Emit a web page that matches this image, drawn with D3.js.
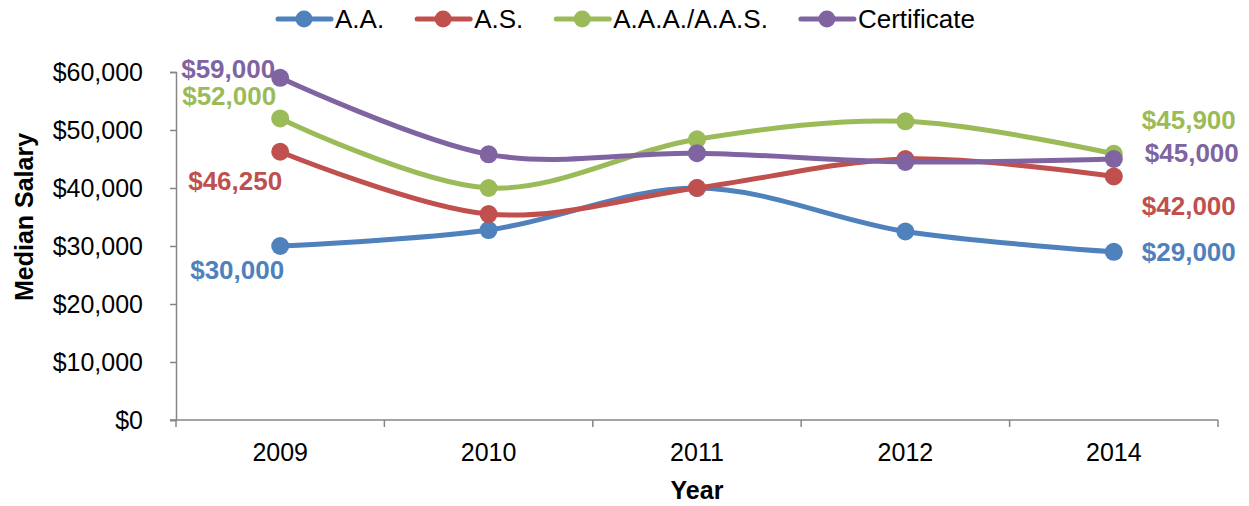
<!DOCTYPE html>
<html>
<head>
<meta charset="utf-8">
<script src="https://cdn.jsdelivr.net/npm/d3@7"></script>
<style>
  html, body { margin: 0; padding: 0; background: #fff; }
  svg { display: block; font-family: "Liberation Sans", Arial, sans-serif; }
</style>
</head>
<body>
<svg id="chart" width="1249" height="506"></svg>
<script>
// Median salary by credential type, per year
const years = ["2009", "2010", "2011", "2012", "2014"];
const seriesNames = ["A.A.", "A.S.", "A.A.A./A.A.S.", "Certificate"];
const aaValues   = [30000, 32750, 40000, 32500, 29000];
const asValues   = [46250, 35500, 40000, 45000, 42000];
const aaaValues  = [52000, 40000, 48400, 51500, 45900];
const certValues = [59000, 45800, 46000, 44500, 45000];
const yTickValues = [0, 10000, 20000, 30000, 40000, 50000, 60000];

const colors = ["#4F81BD", "#C0504D", "#9BBB59", "#8064A2"];
const seriesValues = [aaValues, asValues, aaaValues, certValues];

// Which points carry a value label, and where the label sits relative to its marker
const labelPlacement = [
  { s: 0, i: 0, dx: -43, dy: 24, anchor: "middle" },
  { s: 1, i: 0, dx: -45, dy: 29, anchor: "middle" },
  { s: 2, i: 0, dx: -4,  dy: -22, anchor: "end" },
  { s: 3, i: 0, dx: -5,  dy: -9, anchor: "end" },
  { s: 0, i: 4, dx: 28,  dy: 0, anchor: "start" },
  { s: 1, i: 4, dx: 28,  dy: 30, anchor: "start" },
  { s: 2, i: 4, dx: 28,  dy: -34, anchor: "start" },
  { s: 3, i: 4, dx: 31,  dy: -6, anchor: "start" }
];

const svg = d3.select("#chart");
const plotLeft = 176, plotRight = 1218, plotTop = 72, plotBottom = 420;
const axisColor = "#868686";

const x = d3.scaleBand().domain(years).range([plotLeft, plotRight]);
const y = d3.scaleLinear().domain([0, 60000]).range([plotBottom, plotTop]);
const cx = d => x(d) + x.bandwidth() / 2;

const money = d => "$" + d3.format(",")(d);

// Y axis
const yAxis = svg.append("g")
  .attr("transform", `translate(${plotLeft},0)`)
  .call(d3.axisLeft(y).tickValues(yTickValues).tickFormat(money).tickSize(6).tickPadding(27));
yAxis.select(".domain").attr("stroke", axisColor).attr("stroke-width", 1.5);
yAxis.selectAll(".tick line").attr("stroke", axisColor).attr("stroke-width", 1.5);
yAxis.selectAll(".tick text").attr("font-size", 25).attr("fill", "#000")
  .attr("font-family", "Liberation Sans, Arial, sans-serif");

// X axis with tick marks on category boundaries
const xAxis = svg.append("g")
  .attr("transform", `translate(0,${plotBottom})`);
xAxis.append("line")
  .attr("x1", plotLeft - 6).attr("x2", plotRight)
  .attr("stroke", axisColor).attr("stroke-width", 1.5);
const boundaries = years.map(d => x(d)).concat([x(years[years.length - 1]) + x.bandwidth()]);
xAxis.selectAll("line.tick").data(boundaries).join("line")
  .attr("class", "tick")
  .attr("x1", d => d).attr("x2", d => d)
  .attr("y1", 0).attr("y2", 7)
  .attr("stroke", axisColor).attr("stroke-width", 1.5);
xAxis.selectAll("text").data(years).join("text")
  .attr("x", d => cx(d)).attr("y", 41)
  .attr("text-anchor", "middle")
  .attr("font-size", 25)
  .text(d => d);

// Axis titles
svg.append("text")
  .attr("x", (plotLeft + plotRight) / 2).attr("y", 499)
  .attr("text-anchor", "middle")
  .attr("font-size", 25).attr("font-weight", "bold")
  .text("Year");
svg.append("text")
  .attr("transform", "translate(33,217) rotate(-90)")
  .attr("text-anchor", "middle")
  .attr("font-size", 25).attr("font-weight", "bold")
  .text("Median Salary");

// Smoothed series lines and markers
const line = d3.line()
  .x((d, i) => cx(years[i]))
  .y(d => y(d))
  .curve(d3.curveCardinal.tension(0));

seriesValues.forEach((vals, s) => {
  const g = svg.append("g");
  g.append("path")
    .attr("d", line(vals))
    .attr("fill", "none")
    .attr("stroke", colors[s])
    .attr("stroke-width", 5)
    .attr("stroke-linecap", "round");
  g.selectAll("circle").data(vals).join("circle")
    .attr("cx", (d, i) => cx(years[i]))
    .attr("cy", d => y(d))
    .attr("r", 9)
    .attr("fill", colors[s]);
});

// Value labels
svg.append("g").selectAll("text").data(labelPlacement).join("text")
  .attr("x", p => cx(years[p.i]) + p.dx)
  .attr("y", p => y(seriesValues[p.s][p.i]) + p.dy)
  .attr("dominant-baseline", "central")
  .attr("text-anchor", p => p.anchor)
  .attr("font-size", 26).attr("font-weight", "bold")
  .attr("fill", p => colors[p.s])
  .text(p => money(seriesValues[p.s][p.i]));

// Legend
const legend = svg.append("g");
let lx = 278;
const ly = 19;
seriesNames.forEach((name, s) => {
  const item = legend.append("g");
  item.append("line")
    .attr("x1", lx).attr("x2", lx + 53)
    .attr("y1", ly).attr("y2", ly)
    .attr("stroke", colors[s]).attr("stroke-width", 5).attr("stroke-linecap", "round");
  item.append("circle")
    .attr("cx", lx + 26).attr("cy", ly).attr("r", 8.5)
    .attr("fill", colors[s]);
  const t = item.append("text")
    .attr("x", lx + 57).attr("y", ly)
    .attr("dominant-baseline", "central")
    .attr("font-size", 26)
    .text(name);
  lx = lx + 57 + t.node().getComputedTextLength() + 33;
});
</script>
</body>
</html>
